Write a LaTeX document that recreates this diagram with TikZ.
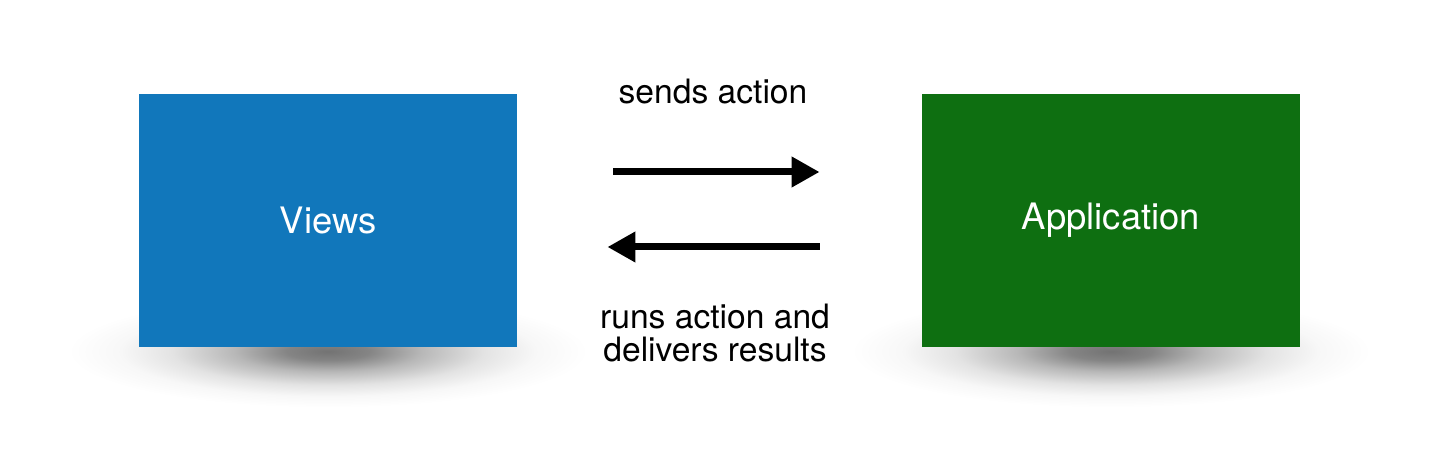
\documentclass[tikz,border=0pt]{standalone}
\usepackage{fontspec}
\setmainfont{TeX Gyre Heros}
\usetikzlibrary{arrows.meta,positioning,calc,backgrounds}
\definecolor{viewblue}{RGB}{17,119,187}
\definecolor{appgreen}{RGB}{14,111,17}
\pgfdeclareradialshading{softshadow}{\pgfpoint{0bp}{0bp}}{%
 color(0bp)=(black!55); color(4bp)=(black!48); color(9bp)=(black!28);
 color(15bp)=(black!11); color(20bp)=(black!3); color(25bp)=(white); color(50bp)=(white)}

\begin{document}
\begin{tikzpicture}[x=0.5pt,y=-0.5pt,font=\fontsize{16.8}{16.5}\selectfont,
 box/.style={inner sep=0pt,minimum width=189pt,minimum height=126.5pt,text=white,
  font=\fontsize{18.2}{20}\selectfont},
 floorshadow/.style={shading=softshadow},
 lbl/.style={inner sep=0pt,align=center},
 arr/.style={-{Triangle[length=14pt,width=14.5pt]},line width=3.5pt,draw=black}]
\useasboundingbox (0,0) rectangle (1456,458);
\node[box,fill=viewblue] (views) at (328,220.5) {Views};
\node[box,fill=appgreen] (app) at (1111,220.5) {Application};
\begin{scope}[on background layer]
\shade[floorshadow] ([yshift=-2pt]views.south) ellipse [x radius=130pt,y radius=28pt];
\shade[floorshadow] ([yshift=-2pt]app.south) ellipse [x radius=130pt,y radius=28pt];
\end{scope}
\draw[arr] ([xshift=48pt,yshift=24.25pt]views.east) -- ([xshift=-51pt,yshift=24.25pt]app.west);
\draw[arr] ([xshift=-51pt,yshift=-13.25pt]app.west) -- ([xshift=45pt,yshift=-13.25pt]views.east);
\node[lbl,anchor=base] (sends) at (713,103.3) {sends action};
\node[lbl,anchor=north] (runs) at (715,304) {runs action and\\delivers results};
\end{tikzpicture}
\end{document}
